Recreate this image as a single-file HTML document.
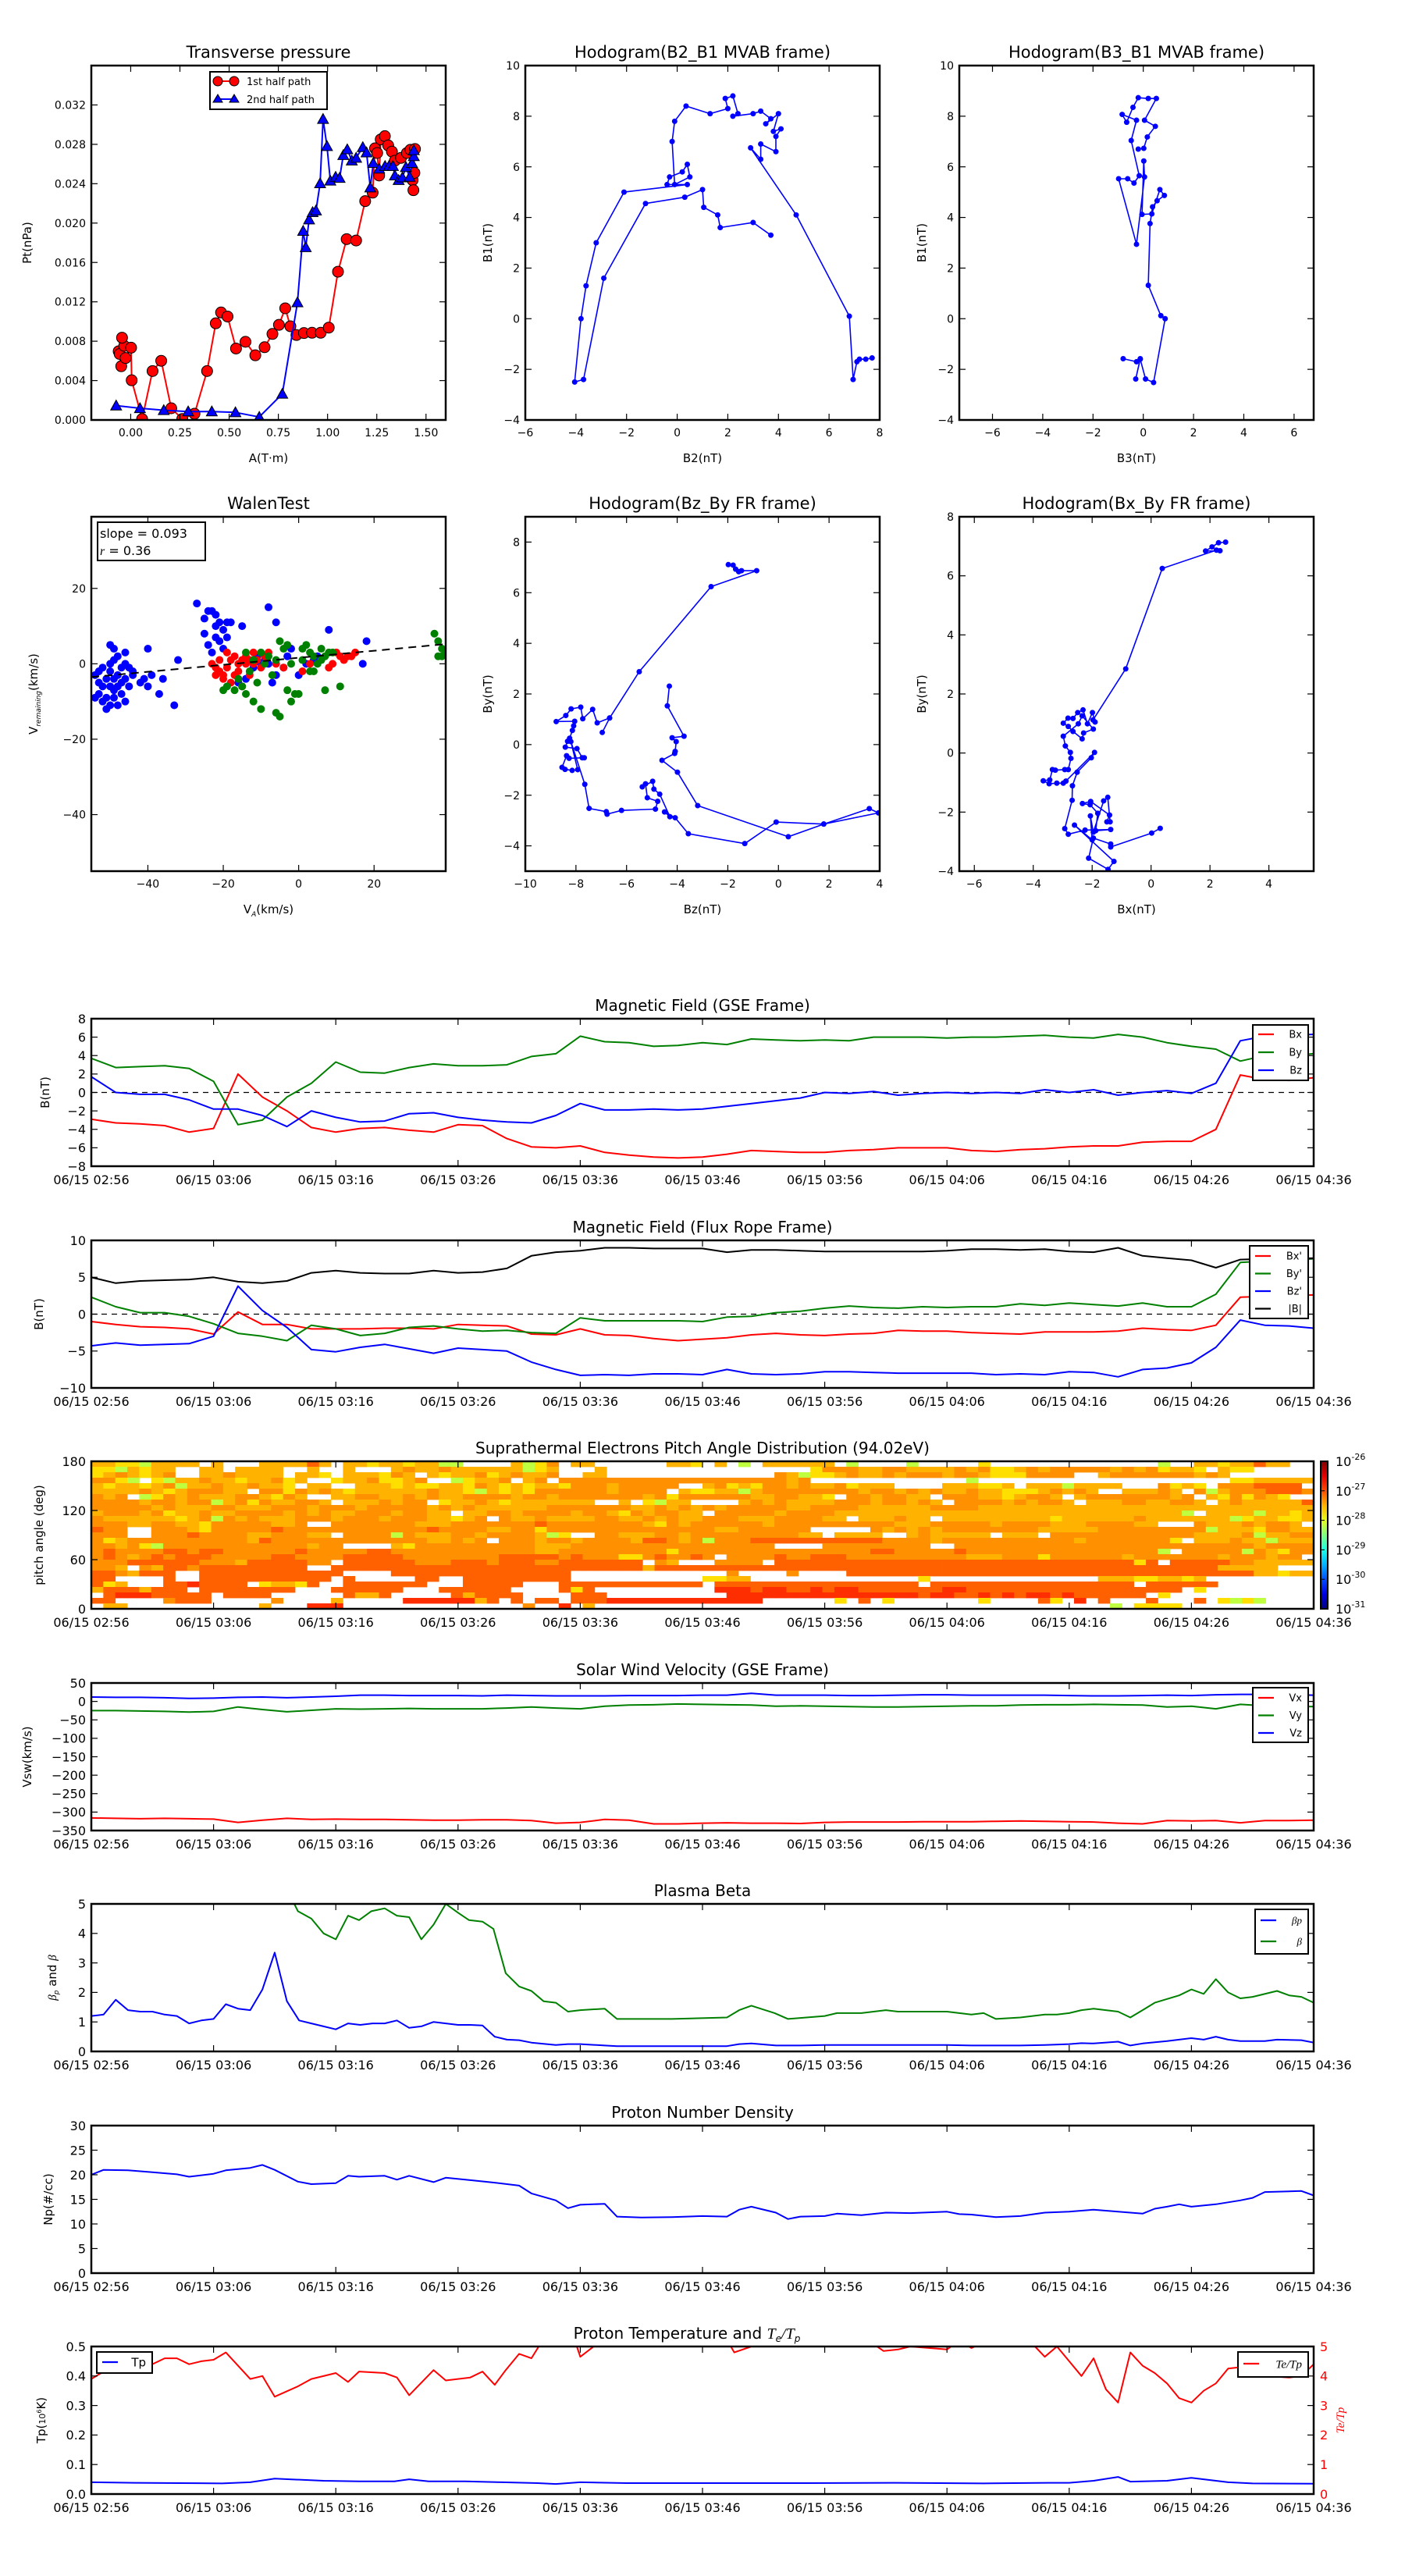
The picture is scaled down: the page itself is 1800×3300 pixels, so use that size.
<!DOCTYPE html>
<html><head><meta charset="utf-8"><title>Flux rope analysis</title>
<style>
html,body{margin:0;padding:0;background:#fff;}
svg{display:block;font-family:"DejaVu Sans","Liberation Sans",sans-serif;}
</style></head>
<body>
<svg id="fig" xmlns="http://www.w3.org/2000/svg" width="1800" height="3300" viewBox="0 0 1800 3300">
<rect x="0" y="0" width="1800" height="3300" fill="#fff"/>
</svg>
<script>
// ===================== DATA =====================
// Transverse pressure
const PT1_A = [-0.061,-0.056,-0.048,-0.033,-0.044,-0.026,0.002,0.005,0.058,0.111,0.155,0.206,0.262,0.324,0.388,0.432,0.459,0.492,0.535,0.583,0.633,0.680,0.720,0.753,0.785,0.811,0.842,0.880,0.921,0.965,1.006,1.053,1.097,1.145,1.191,1.229,1.241,1.252,1.262,1.270,1.291,1.308,1.327,1.342,1.373,1.403,1.421,1.444,1.432,1.436,1.441];
const PT1_P = [0.00698,0.0067,0.00546,0.00753,0.00836,0.00629,0.00734,0.00403,0.0001,0.00497,0.00601,0.00119,0.0001,0.00063,0.00497,0.00982,0.01092,0.01051,0.00726,0.00794,0.00657,0.00739,0.00874,0.00966,0.01134,0.00952,0.00863,0.00883,0.00886,0.00886,0.00938,0.01506,0.01837,0.01823,0.02223,0.02309,0.02759,0.02712,0.02483,0.0285,0.02883,0.02789,0.02726,0.02634,0.02662,0.02712,0.02745,0.02753,0.02436,0.02334,0.0251];
const PT2_A = [-0.074,0.047,0.168,0.292,0.412,0.532,0.653,0.770,0.847,0.876,0.889,0.906,0.924,0.941,0.962,0.977,0.997,1.014,1.041,1.061,1.080,1.100,1.123,1.145,1.179,1.198,1.217,1.232,1.262,1.292,1.312,1.332,1.342,1.361,1.380,1.398,1.417,1.429,1.438,1.438];
const PT2_P = [0.00146,0.00119,0.00099,0.00086,0.00086,0.00077,0.0003,0.00265,0.01194,0.0192,0.01754,0.02036,0.0211,0.02127,0.02403,0.03057,0.02781,0.0243,0.02469,0.02458,0.0269,0.02748,0.02634,0.02662,0.0277,0.02717,0.02361,0.0261,0.02552,0.02579,0.02579,0.02579,0.02483,0.02436,0.02463,0.02568,0.02469,0.0261,0.02679,0.02739];
const PT_XTICKS = [0,0.25,0.5,0.75,1.0,1.25,1.5];
const PT_XLABELS = ['0.00','0.25','0.50','0.75','1.00','1.25','1.50'];
const PT_YTICKS = [0,0.004,0.008,0.012,0.016,0.020,0.024,0.028,0.032];
const PT_YLABELS = ['0.000','0.004','0.008','0.012','0.016','0.020','0.024','0.028','0.032'];

// Hodogram B2-B1
const H1_X = [3.7,3.0,1.7,1.6,1.05,1.0,0.3,-1.25,-2.9,-3.7,-4.05,-3.8,-3.6,-3.2,-2.1,0.4,-0.4,-0.3,0.2,0.4,0.5,-0.1,-0.2,-0.1,0.35,1.3,2.0,1.9,2.2,2.4,2.2,3.0,3.3,3.7,3.5,4.0,3.8,4.1,3.9,3.9,3.3,3.3,2.9,4.7,6.8,6.95,7.1,7.2,7.45,7.7];
const H1_Y = [3.3,3.8,3.6,4.1,4.4,5.1,4.8,4.55,1.6,-2.4,-2.5,0.0,1.3,3.0,5.0,5.3,5.3,5.6,5.8,6.1,5.6,5.3,7.0,7.8,8.4,8.1,8.3,8.7,8.8,8.1,8.0,8.1,8.2,7.9,7.7,8.1,7.4,7.5,7.2,6.6,6.9,6.3,6.75,4.1,0.1,-2.4,-1.7,-1.6,-1.6,-1.55];
// Hodogram B3-B1
const H2_X = [-0.8,-0.27,-0.12,-0.3,-0.12,0.09,0.41,0.87,0.7,0.2,0.27,0.37,0.55,0.84,0.66,0.34,-0.05,0.02,0.05,-0.27,-0.98,-0.62,-0.37,-0.16,-0.48,-0.27,-0.84,-0.66,-0.41,-0.2,0.2,0.52,0.05,0.48,0.16,0.02,-0.2];
const H2_Y = [-1.58,-1.7,-1.58,-2.38,-1.6,-2.38,-2.52,0,0.12,1.32,3.76,4.42,4.66,4.87,5.1,4.14,4.12,6.23,5.6,2.94,5.53,5.53,5.36,5.65,7.04,7.84,8.07,7.76,8.35,8.73,8.7,8.7,7.84,7.6,7.18,6.73,6.7];
const H_XTICKS1 = [-6,-4,-2,0,2,4,6,8];
const H_YTICKS1 = [-4,-2,0,2,4,6,8,10];
const H_XTICKS2 = [-6,-4,-2,0,2,4,6];
// Walen test
const WB_X = [-54,-53,-53,-52,-52,-51,-51,-50,-50,-50,-49,-49,-49,-48,-48,-48,-47,-47,-46,-46,-45,-45,-44,-44,-52,-53,-54,-51,-50,-49,-48,-47,-46,-50,-49,-46,-40,-42,-41,-39,-37,-36,-40,-33,-32,-27,-24,-23,-22,-21,-25,-24,-23,-22,-21,-20,-19,-18,-22,-20,-25,-19,-15,-8,-6,0,-2,8,18,17,-16,-12,-10,-11,-8,-6,-4,-3,2,4,5,-9,-14,-7];
const WB_Y = [-3,-5,-8,-10,-1,-12,-4,-6,-2,0,1,-7,-9,-3,-11,2,-5,-8,-10,0,-1,-6,-3,-2,-6,-2,-9,-9,-11,-4,-6,-1,-4,5,4,3,-6,-5,-4,-3,-8,-4,4,-11,1,16,14,14,13,11,8,5,3,7,6,9,7,11,10,4,12,11,10,15,11,-3,4,9,6,0,-5,-1,0,2,0,-3,-1,2,0,1,2,1,-4,-5];
const WR_X = [-23,-22,-21,-20,-19,-18,-17,-16,-15,-14,-13,-12,-11,-10,-9,-17,-18,-15,-20,-16,-14,-12,-8,-6,-4,1,3,9,11,12,13,14,15,8,10,-21,-19,-13,-22];
const WR_Y = [0,-1,-2,-4,-1,1,2,-2,1,0,-3,3,1,-1,2,-3,-5,-6,-3,0,2,0,3,0,-1,-2,0,0,2,1,2,2,3,-1,3,1,3,1,-3];
const WG_X = [-20,-19,-17,-16,-15,-14,-13,-12,-11,-10,-14,-12,-10,-8,-7,-6,-5,-5,-4,-3,-2,-1,0,1,2,3,4,5,6,7,8,9,-9,-6,-3,1,3,7,11,36,37,38,39,37,38,4,-2,6];
const WG_Y = [-7,-6,-7,-4,-6,-8,-2,-10,-5,-12,3,1,3,2,-3,-13,-14,6,4,-7,-10,-8,-8,4,5,3,2,0,4,2,3,3,0,1,5,1,-2,-7,-6,8,6,2,3,2,4,-2,0,1];
const WALEN_SLOPE = 0.093, WALEN_INTERCEPT = 1.6;
const W_TICKS = [-40,-20,0,20];
// Hodogram Bz-By (FR)
const H3_X = [-1.98,-1.79,-1.69,-1.57,-1.46,-0.86,-2.66,-5.5,-6.67,-6.96,-6.67,-7.16,-7.34,-7.73,-7.81,-8.19,-8.4,-8.78,-8.05,-8.09,-8.14,-8.25,-8.33,-8.42,-7.96,-7.75,-7.67,-8.27,-8.37,-8.55,-8.43,-8.15,-7.93,-8.2,-7.65,-7.48,-6.8,-6.77,-6.2,-4.86,-4.77,-5.18,-5.25,-5.38,-4.97,-4.92,-4.69,-4.29,-4.5,-4.08,-3.56,-1.33,-0.09,1.79,3.59,3.95,1.79,0.39,-3.19,-3.99,-4.6,-4.1,-4.08,-4.04,-4.2,-3.73,-4.39,-4.31];
const H3_Y = [7.11,7.09,6.93,6.83,6.87,6.87,6.24,2.88,1.05,0.48,1.05,0.86,1.39,1.02,1.48,1.41,1.15,0.91,0.92,0.74,0.56,0.25,0.13,-0.1,-0.16,-0.52,-0.52,-0.54,-0.44,-0.9,-0.98,-1.02,-0.99,0.12,-1.57,-2.52,-2.65,-2.75,-2.6,-2.55,-2.24,-2.1,-1.55,-1.67,-1.45,-1.76,-1.96,-2.85,-2.66,-2.89,-3.52,-3.91,-3.06,-3.14,-2.53,-2.7,-3.14,-3.64,-2.41,-1.09,-0.62,-0.35,-0.27,0.12,0.27,0.33,1.53,2.31];
const H3_XTICKS = [-10,-8,-6,-4,-2,0,2,4];
const H3_YTICKS = [-4,-2,0,2,4,6,8];
// Hodogram Bx-By (FR)
const H4_X = [2.53,2.29,2.07,1.85,2.34,2.22,0.38,-0.86,-1.97,-1.90,-1.99,-2.16,-2.31,-2.49,-2.65,-2.82,-2.98,-2.81,-2.65,-2.34,-2.29,-1.96,-2.34,-2.47,-2.98,-2.91,-2.74,-2.72,-2.81,-2.93,-3.25,-3.35,-3.44,-3.66,-3.46,-3.2,-2.98,-2.89,-1.92,-2.03,-2.51,-2.67,-2.68,-2.93,-2.81,-2.24,-1.37,-1.88,-1.81,-2.07,-2.33,-2.05,-1.41,-1.5,-1.39,-1.47,-1.61,-1.96,-2.06,-2.0,-2.6,-1.26,-1.46,-2.12,-1.96,-1.37,-1.37,0.02,0.31];
const H4_Y = [7.14,7.12,6.98,6.84,6.85,6.87,6.25,2.85,1.12,1.05,1.37,0.99,1.46,1.37,1.17,1.18,1.01,0.9,0.73,0.48,0.68,0.81,1.26,0.99,0.57,0.24,0.02,-0.18,-0.56,-0.56,-0.58,-0.56,-0.91,-0.94,-1.04,-1.02,-1.02,-0.95,0.02,-0.16,-0.65,-1.11,-1.6,-2.56,-2.75,-2.61,-2.59,-2.63,-2.04,-1.75,-1.71,-1.64,-2.1,-2.33,-2.33,-1.5,-1.62,-2.68,-2.13,-2.94,-2.44,-3.67,-3.94,-3.56,-2.88,-3.08,-3.18,-2.71,-2.55];
const H4_XTICKS = [-6,-4,-2,0,2,4];
const H4_YTICKS = [-4,-2,0,2,4,6,8];

// Time series (minutes after 02:56)
const TIME_TICK_MIN = [0,10,20,30,40,50,60,70,80,90,100];
const TIME_TICK_LABELS = ['06/15 02:56','06/15 03:06','06/15 03:16','06/15 03:26','06/15 03:36','06/15 03:46','06/15 03:56','06/15 04:06','06/15 04:16','06/15 04:26','06/15 04:36'];
const T2 = [0,2,4,6,8,10,12,14,16,18,20,22,24,26,28,30,32,34,36,38,40,42,44,46,48,50,52,54,56,58,60,62,64,66,68,70,72,74,76,78,80,82,84,86,88,90,92,94,96,98,100];
const GSE_BX = [-2.9,-3.3,-3.4,-3.6,-4.3,-3.9,2.0,-0.5,-2.0,-3.8,-4.3,-3.9,-3.8,-4.1,-4.3,-3.5,-3.6,-5.0,-5.9,-6.0,-5.8,-6.5,-6.8,-7.0,-7.1,-7.0,-6.7,-6.3,-6.4,-6.5,-6.5,-6.3,-6.2,-6.0,-6.0,-6.0,-6.3,-6.4,-6.2,-6.1,-5.9,-5.8,-5.8,-5.4,-5.3,-5.3,-4.0,1.9,1.4,1.3,1.6];
const GSE_BY = [3.7,2.7,2.8,2.9,2.6,1.2,-3.5,-3.0,-0.5,1.0,3.3,2.2,2.1,2.7,3.1,2.9,2.9,3.0,3.9,4.2,6.1,5.5,5.4,5.0,5.1,5.4,5.2,5.8,5.7,5.6,5.7,5.6,6.0,6.0,6.0,5.9,6.0,6.0,6.1,6.2,6.0,5.9,6.3,6.0,5.4,5.0,4.7,3.4,4.0,4.0,4.2];
const GSE_BZ = [1.7,0,-0.2,-0.2,-0.8,-1.8,-1.8,-2.5,-3.7,-2.0,-2.7,-3.2,-3.1,-2.3,-2.2,-2.7,-3.0,-3.2,-3.3,-2.5,-1.2,-1.9,-1.9,-1.8,-1.9,-1.8,-1.5,-1.2,-0.9,-0.6,0.0,-0.1,0.1,-0.3,-0.1,0,-0.1,0,-0.1,0.3,0,0.3,-0.3,0.0,0.2,-0.1,1.0,5.6,6.1,6.2,6.3];
const FR_BX = [-1,-1.4,-1.7,-1.8,-2.0,-2.7,0.3,-1.4,-1.4,-2.0,-2.0,-2.0,-1.9,-1.9,-2.0,-1.4,-1.5,-1.6,-2.7,-2.8,-2.0,-2.8,-2.9,-3.3,-3.6,-3.4,-3.2,-2.8,-2.6,-2.8,-2.9,-2.7,-2.6,-2.2,-2.3,-2.3,-2.5,-2.6,-2.7,-2.4,-2.4,-2.4,-2.3,-1.9,-2.1,-2.2,-1.5,2.3,2.4,2.5,2.6];
const FR_BY = [2.3,1.0,0.2,0.2,-0.3,-1.3,-2.6,-3.0,-3.6,-1.5,-2.0,-2.9,-2.6,-1.8,-1.6,-2.0,-2.3,-2.2,-2.5,-2.6,-0.5,-0.9,-0.9,-0.9,-0.9,-1.0,-0.4,-0.3,0.2,0.4,0.8,1.1,0.9,0.8,1.0,0.9,1.0,1.0,1.4,1.2,1.5,1.3,1.1,1.5,1.0,1.0,2.7,7.0,7.2,7.3,7.5];
const FR_BZ = [-4.3,-3.9,-4.2,-4.1,-4.0,-3.0,3.8,0.5,-1.8,-4.8,-5.1,-4.5,-4.1,-4.7,-5.3,-4.6,-4.8,-5.0,-6.5,-7.5,-8.3,-8.2,-8.3,-8.1,-8.1,-8.2,-7.5,-8.1,-8.2,-8.1,-7.8,-7.8,-7.9,-8.0,-8.0,-8.0,-8.0,-8.2,-8.1,-8.2,-7.8,-7.9,-8.5,-7.5,-7.3,-6.6,-4.5,-0.8,-1.5,-1.6,-1.9];
const FR_BT = [5.0,4.2,4.5,4.6,4.7,5.0,4.4,4.2,4.5,5.6,5.9,5.6,5.5,5.5,5.9,5.6,5.7,6.2,7.9,8.4,8.6,9.0,9.0,8.9,8.9,8.9,8.4,8.7,8.7,8.6,8.5,8.5,8.5,8.5,8.5,8.6,8.8,8.8,8.7,8.8,8.5,8.4,9.0,7.9,7.6,7.3,6.3,7.4,7.5,7.5,7.6];
const VX = [-316,-317,-318,-317,-318,-319,-328,-322,-317,-320,-319,-320,-320,-321,-322,-322,-321,-321,-323,-330,-328,-320,-322,-332,-332,-330,-329,-330,-330,-331,-328,-327,-327,-327,-326,-326,-326,-325,-324,-325,-326,-327,-330,-332,-323,-324,-323,-329,-323,-323,-322];
const VY = [-25,-25,-26,-27,-29,-27,-15,-22,-28,-24,-20,-21,-20,-19,-20,-20,-20,-18,-15,-18,-20,-13,-10,-9,-7,-8,-9,-10,-13,-12,-13,-14,-15,-15,-14,-13,-12,-12,-10,-9,-9,-8,-9,-10,-15,-13,-20,-8,-12,-13,-14];
const VZ = [12,11,11,10,8,9,11,12,10,12,14,17,17,16,16,16,15,17,16,15,15,15,16,16,16,17,17,22,17,17,17,16,16,17,18,18,17,17,17,17,16,15,15,16,17,16,18,19,19,18,17];
const BETAP_T = [0,1,2,3,4,5,6,7,8,9,10,11,12,13,14,15,16,17,18,19,20,21,22,23,24,25,26,27,28,29,30,31,32,33,34,35,36,37,38,39,40,42,43,52,53,54,56,58,60,65,70,72,74,76,78,80,81,82,84,85,86,88,90,91,92,93,94,96,97,99,100];
const BETAP_V = [1.2,1.25,1.75,1.4,1.35,1.35,1.25,1.2,0.95,1.05,1.1,1.6,1.45,1.4,2.1,3.35,1.7,1.05,0.95,0.85,0.75,0.95,0.9,0.95,0.95,1.05,0.8,0.85,1.0,0.95,0.9,0.9,0.88,0.5,0.4,0.38,0.3,0.26,0.22,0.25,0.25,0.2,0.18,0.18,0.25,0.27,0.2,0.2,0.22,0.22,0.22,0.2,0.2,0.2,0.22,0.25,0.28,0.27,0.33,0.2,0.27,0.35,0.45,0.4,0.5,0.4,0.35,0.35,0.4,0.38,0.3];
const BETA_T = [0,7.5,8,8.5,16,16.9,18,19,20,21,21.9,22.9,24,25,26,27,28,29,30,30.9,32,32.9,33.9,35,36,37,38,39,40,42,43,47.5,52,53,54,55.9,57,60,61,63,65,66,70,72,73,74,76,78,79,80,81,82,84,85,86,87,89,90,91,92,93,94,95,97,98,99,100];
const BETA_V = [6,5.3,5.0,5.3,5.5,4.75,4.5,4.0,3.8,4.6,4.45,4.75,4.85,4.6,4.55,3.8,4.3,5.0,4.7,4.45,4.4,4.15,2.65,2.2,2.05,1.7,1.65,1.35,1.4,1.45,1.1,1.1,1.15,1.4,1.55,1.3,1.1,1.2,1.3,1.3,1.4,1.35,1.35,1.25,1.3,1.1,1.15,1.25,1.25,1.3,1.4,1.45,1.35,1.15,1.4,1.65,1.9,2.1,1.95,2.45,2.0,1.8,1.85,2.05,1.9,1.85,1.65];
const NP_T = [0,1,3,5,7,8,10,11,13,14,15,16.9,18,20,21,21.9,24,25,26,28,29,31,33,35,36,38,39,40,42,43,45,47.5,50,52,53,54,56,57,58,60,61,63,65,67,70,71,72,74,76,78,80,82,84,86,87,88,89,90,92,94,95,96,99,100];
const NP_V = [20,21,20.9,20.5,20.1,19.6,20.2,20.9,21.4,22.0,21.0,18.6,18.1,18.3,19.8,19.6,19.8,19.0,19.8,18.5,19.4,18.9,18.4,17.8,16.2,14.8,13.2,13.9,14.1,11.5,11.3,11.4,11.6,11.5,12.9,13.5,12.3,11.0,11.5,11.6,12.1,11.8,12.3,12.2,12.5,12.0,11.9,11.4,11.6,12.3,12.5,12.9,12.5,12.1,13.1,13.5,14.0,13.5,14.0,14.8,15.3,16.5,16.7,15.8];
const TP_T = [0,3.5,7.2,10.7,13,15,19,21.9,24.8,26,27.6,30.6,33.6,36.5,38,40,43.8,51,58.5,65.8,73,78.3,80,82,84,85,88,90,93,95,100];
const TP_V = [0.04,0.038,0.037,0.036,0.04,0.052,0.045,0.043,0.043,0.05,0.043,0.043,0.04,0.037,0.034,0.04,0.037,0.037,0.037,0.038,0.036,0.038,0.038,0.045,0.058,0.042,0.045,0.055,0.04,0.036,0.035];
const TETP_T = [0,1,3,4,6,7,8,9,10,11,13,14,15,16.9,18,20,21,21.9,24,25,26,28,29,31,32,33,33.9,35,36,36.9,39.4,40,41.1,42.4,47.5,51.9,52.6,54,55.6,62.9,64.8,66,67,70,71,72,73.9,77.2,78,79,80,81,82,83,84,85,86,87,88,89,90,91,92,93,94,95,96,98,99,100];
const TETP_V = [3.9,4.15,4.4,4.2,4.6,4.6,4.4,4.5,4.55,4.8,3.9,4.0,3.3,3.65,3.9,4.1,3.8,4.15,4.1,3.95,3.35,4.2,3.85,3.95,4.15,3.7,4.2,4.75,4.6,5.2,5.4,4.65,5.0,5.4,5.5,5.3,4.8,5.0,5.3,5.4,4.85,4.9,5.0,4.9,5.2,4.95,5.3,5.0,4.65,5.0,4.5,4.0,4.6,3.55,3.1,4.8,4.35,4.1,3.75,3.25,3.1,3.5,3.75,4.25,4.3,4.2,4.0,3.95,4.0,4.4];

// PAD heatmap: one string per pitch-angle row (top = 180 deg), one char per ~1 min bin
// codes: '.' no data, g,y,l,o,d,r -> log10 flux levels in PAD_LEVELS
const PAD_CODES = ['g','y','l','o','d','r'];
const PAD_LEVELS = [-28.19,-27.72,-27.5,-27.33,-27.1,-26.85];
const PAD_ROWS = [
"llyygllll.l...lllldl.llyllyllgg....lgyo.ll......lly.l.g.llllll.g....g.....y..............g..llylldll..",
"yyglyll..ll.llll..l..l...lollollllllgyl...l.................yooolloolllloloyylolooooololoylly.lyy......",
"ylolylo..llollll.lly.lllyol.lylloylollo..ll..............olgyylolloloooloolyyyoooo..looooooolol.......",
"ooyg.ygllollylloyl..ylloyylo..gyllo.lo.ooooooooooooooooooolo.............g.....................yyllllll",
"lyllylogllollolly.ll..lllylyyllyolylyllyooolooooo..loylyoololloylll....lllyyl.lllgllll...oyly.ooodddd",
"llllolyloooll ooyololyllllllollyglylyooooooloooo.lyyllglooooooooloololollollyyylolol..lllol.oglooodddodd",
"olo.gyolollloolyol..lloollololloooolooloooooooloyoooooolloolly.oolooll ooollylool looooooolo lyoyoly.....",
"oooolooloogloyollool llloloo.yllolylllllll..l.ygll....lololllloooloolol oooololool llloollool lollllldllll",
"ooooolollloolllooolooolooooololollllllooooooollolololooooolloooolllllloooolllllllllllllllllllllllllllll",
"loooloyllolloooololollooolooll lloolooooloolyolooll oooooloooolllllllllllllllllllllllllllllg.llllgllyllll",
"ollllllylogololllooolooolooollylo.ollolllloollolollooolllooooll.llloll lllllllllyllllllolllllllgyllyylll",
"ooolloollyooooollo..ooooooolllooooooodoooooooolyolooooooloooooooooollloooooloooolllooooll...olllolool.ooo",
"doo..ooolyooooodoooooooooooodoooollooyoooooooooooooolloooooo.....olololoooooooollllloooooooooglllyoollll",
"ooo..ooodoooolloooll.oooogolllooloooolgy..oolllooloooooooooll llll..lolllll.lll.oooooooooooollllogllooooo",
"oylooooooooooldooooooooooooollolo.ooolooloooolddologooodddddddddddooooloooooooooooloooooooy.lllollgllll.l",
"ooloygooooooooooooloo....lyoooooooooolllooooooooooooooooo....ooooooooo..ooooooooooooooooooooooooolooooo.o",
"odooooddoddoooooodoooooddoooooooooooolloooooooooyooooooooooooooooddooooodoooooooooooooooog.ooooogolyoooo",
"odolododddoooooddoooodddddoooooooodddddodoooyyodoodo.oooodoodddoooooooooollloooyooooooloooooooloooloo.oo",
"oooddddddoooldddddoo.ddddddooodddodddooddddddd.ol...oooo.ddddddddddddddddddddddddddddddyd.dddddoollllloll",
"ool.olddoddddddddd..ddddddddddddddddddddddddddldddddddddddddddddddddddddddddddddddddddddddddddlllll.....",
"ddolddd..dddddddddddd....ddddddddddddddd.............o....o....ddddddddddddddddddddddddddddddddddllyllyl",
"dd....d..ddddddddddd d.....dd..ddddddddd...........yyll..............y..............lllyyllyl",
"dyl...ddrdddd yllyd..ddddddd...ddddd...dddddddddddd.ddddddddddddddddd.ddddddddddddddddd.dddddd.....",
"ldddlddd.dddddddd...dddddd...dddddd....dyd..........rrrdrrddrdrrdddddddrrdddddddddddddddddd.y......",
".drrrddddd.dddd......dlld.....dldddd....ddd..........rrrrrrrrrrrrrrrrdrrddrdrdrrdrdddddd.y.......",
"dd....oddd.....o....l.....rrrrrrld.d.dd.dddrrrrrrrrrrrrr......y.d.y.......y....dy.r.d...d...d.ygyg....",
".ll...........l...rrr...............o..r.l...........................................g.yyyy."
];
const CB_EXP = ['-26','-27','-28','-29','-30','-31'];

// ===================== HELPERS =====================
const NS = 'http://www.w3.org/2000/svg';
const FIG = document.getElementById('fig');
const FONT = '"DejaVu Sans","Liberation Sans",sans-serif';
let clipCount = 0;
function mk(tag, attrs, parent) {
  const e = document.createElementNS(NS, tag);
  for (const k in attrs) e.setAttribute(k, attrs[k]);
  parent.appendChild(e);
  return e;
}
function text(parent, name, str, x, y, size, anchor, extra) {
  const t = mk('text', Object.assign({x: x, y: y, 'font-size': size, 'text-anchor': anchor || 'middle', fill: '#000'}, extra || {}), parent);
  
  
  t.textContent = str;
  return t;
}
function makeAxes(name, x0, y0, w, h, xmin, xmax, ymin, ymax) {
  const g = mk('g', {}, FIG);
  
  
  clipCount++;
  const cid = 'clip' + clipCount;
  const defs = mk('defs', {}, g);
  const cp = mk('clipPath', {id: cid}, defs);
  mk('rect', {x: x0, y: y0, width: w, height: h}, cp);
  const plot = mk('g', {'clip-path': 'url(#' + cid + ')'}, g);
  
  
  return {g: g, plot: plot, x0: x0, y0: y0, w: w, h: h,
    sx: v => x0 + (v - xmin) / (xmax - xmin) * w,
    sy: v => y0 + h - (v - ymin) / (ymax - ymin) * h};
}
function frame(ax) {
  const r = mk('rect', {x: ax.x0, y: ax.y0, width: ax.w, height: ax.h, fill: 'none', stroke: '#000', 'stroke-width': 2.5}, ax.g);
  
  
}
function xTicks(ax, vals, labels, size, dy, both) {
  const g = mk('g', {}, ax.g);
  
  
  vals.forEach((v, i) => {
    const x = ax.sx(v);
    mk('line', {x1: x, x2: x, y1: ax.y0 + ax.h, y2: ax.y0 + ax.h - 8, stroke: '#000', 'stroke-width': 1.2}, g);
    if (both !== false) mk('line', {x1: x, x2: x, y1: ax.y0, y2: ax.y0 + 8, stroke: '#000', 'stroke-width': 1.2}, g);
    text(g, 'x-tick-label', labels[i], x, ax.y0 + ax.h + dy, size, 'middle');
  });
}
function yTicks(ax, vals, labels, size, color, right, noRightTicks) {
  const g = mk('g', {}, ax.g);
  
  
  vals.forEach((v, i) => {
    const y = ax.sy(v);
    if (!right) {
      mk('line', {x1: ax.x0, x2: ax.x0 + 8, y1: y, y2: y, stroke: '#000', 'stroke-width': 1.2}, g);
      if (!noRightTicks) mk('line', {x1: ax.x0 + ax.w, x2: ax.x0 + ax.w - 8, y1: y, y2: y, stroke: '#000', 'stroke-width': 1.2}, g);
      text(g, 'y-tick-label', labels[i], ax.x0 - 7, y + size * 0.36, size, 'end', {fill: color || '#000'});
    } else {
      mk('line', {x1: ax.x0 + ax.w, x2: ax.x0 + ax.w - 8, y1: y, y2: y, stroke: '#000', 'stroke-width': 1.2}, g);
      text(g, 'right-y-tick-label', labels[i], ax.x0 + ax.w + 8, y + size * 0.36, size, 'start', {fill: color});
    }
  });
}
function yLabel(ax, name, str, x, size, color) {
  const cy = ax.y0 + ax.h / 2;
  const t = text(ax.g, name, str, x, cy, size, 'middle', {transform: 'rotate(-90 ' + x + ' ' + cy + ')', fill: color || '#000'});
  return t;
}
function title(ax, str, size) {
  return text(ax.g, 'chart-title', str, ax.x0 + ax.w / 2, ax.y0 - 10, size, 'middle');
}
function polyline(ax, xs, ys, color, width, name) {
  const pts = xs.map((x, i) => ax.sx(x).toFixed(1) + ',' + ax.sy(ys[i]).toFixed(1)).join(' ');
  const p = mk('polyline', {points: pts, fill: 'none', stroke: color, 'stroke-width': width, 'stroke-linejoin': 'round'}, ax.plot);
  
  
  return p;
}
function dots(ax, xs, ys, color, r, name, stroke) {
  const g = mk('g', {}, ax.plot);
  
  
  xs.forEach((x, i) => {
    const c = mk('circle', {cx: ax.sx(x), cy: ax.sy(ys[i]), r: r, fill: color}, g);
    if (stroke) c.setAttribute('stroke', stroke);
    
    
  });
}
function tris(ax, xs, ys, color, s, name) {
  const g = mk('g', {}, ax.plot);
  
  
  xs.forEach((x, i) => {
    const cx = ax.sx(x), cy = ax.sy(ys[i]);
    const p = mk('polygon', {points: cx + ',' + (cy - s) + ' ' + (cx - s) + ',' + (cy + s * 0.8) + ' ' + (cx + s) + ',' + (cy + s * 0.8), fill: color, stroke: '#000', 'stroke-width': 1}, g);
    
    
  });
}
function zeroLine(ax) {
  const l = mk('line', {x1: ax.x0, x2: ax.x0 + ax.w, y1: ax.sy(0), y2: ax.sy(0), stroke: '#000', 'stroke-width': 1.3, 'stroke-dasharray': '7,6'}, ax.plot);
  
  
}
function legend(ax, name, x, y, w, h, entries, size, rowStart, rowStep) {
  const g = mk('g', {}, ax.g);
  
  
  mk('rect', {x: x, y: y, width: w, height: h, fill: '#fff', stroke: '#000', 'stroke-width': 2}, g);
  entries.forEach((e, i) => {
    const yy = y + rowStart + i * rowStep;
    const ln = mk('line', {x1: x + 7, x2: x + 27, y1: yy, y2: yy, stroke: e.color, 'stroke-width': 2.2}, g);
    
    
    const t = text(g, 'legend-entry', e.label, x + w - 8, yy + size * 0.35, size, 'end', e.italic ? {'font-style': 'italic', 'font-family': '"Liberation Serif",serif'} : {});
  });
  return g;
}
function jet(t) {
  const c = v => Math.max(0, Math.min(1, v));
  const r = c(1.5 - Math.abs(4 * t - 3)), g = c(1.5 - Math.abs(4 * t - 2)), b = c(1.5 - Math.abs(4 * t - 1));
  return 'rgb(' + Math.round(r * 255) + ',' + Math.round(g * 255) + ',' + Math.round(b * 255) + ')';
}

// ===================== TOP ROW =====================
// Transverse pressure
(function () {
  const ax = makeAxes('transverse-pressure-chart', 117, 84, 454, 454, -0.2, 1.6, 0, 0.036);
  polyline(ax, PT1_A, PT1_P, '#ff0000', 2, 'first-half-path-line');
  dots(ax, PT1_A, PT1_P, '#ff0000', 7, 'first-half-path-markers', '#000');
  polyline(ax, PT2_A, PT2_P, '#0000ff', 2, 'second-half-path-line');
  tris(ax, PT2_A, PT2_P, '#0000ff', 7, 'second-half-path-markers');
  xTicks(ax, PT_XTICKS, PT_XLABELS, 14, 21);
  yTicks(ax, PT_YTICKS, PT_YLABELS, 14);
  frame(ax);
  title(ax, 'Transverse pressure', 21);
  yLabel(ax, 'y-axis-title', 'Pt(nPa)', 40, 15);
  text(ax.g, 'x-axis-title', 'A(T\u00b7m)', ax.x0 + ax.w / 2, 592, 15, 'middle');
  const lg = mk('g', {}, ax.g);
  
  
  mk('rect', {x: 269, y: 92, width: 150, height: 48, fill: '#fff', stroke: '#000', 'stroke-width': 2}, lg);
  mk('line', {x1: 279, x2: 300, y1: 104, y2: 104, stroke: '#f00', 'stroke-width': 2}, lg);
  mk('circle', {cx: 279, cy: 104, r: 6, fill: '#f00', stroke: '#000'}, lg);
  mk('circle', {cx: 300, cy: 104, r: 6, fill: '#f00', stroke: '#000'}, lg);
  text(lg, 'legend-entry', '1st half path', 316, 109, 13, 'start');
  mk('line', {x1: 279, x2: 300, y1: 127, y2: 127, stroke: '#00f', 'stroke-width': 2}, lg);
  mk('polygon', {points: '279,121 273,131 285,131', fill: '#00f', stroke: '#000'}, lg);
  mk('polygon', {points: '300,121 294,131 306,131', fill: '#00f', stroke: '#000'}, lg);
  text(lg, 'legend-entry', '2nd half path', 316, 132, 13, 'start');
})();
// Hodogram B2_B1
(function () {
  const ax = makeAxes('hodogram-b2-b1-chart', 673, 84, 454, 454, -6, 8, -4, 10);
  polyline(ax, H1_X, H1_Y, '#0000ff', 1.6, 'hodogram-b2-b1-line');
  dots(ax, H1_X, H1_Y, '#0000ff', 3.5, 'hodogram-b2-b1-markers');
  xTicks(ax, H_XTICKS1, H_XTICKS1.map(v => String(v).replace('-', '\u2212')), 14, 21);
  yTicks(ax, H_YTICKS1, H_YTICKS1.map(v => String(v).replace('-', '\u2212')), 14);
  frame(ax);
  title(ax, 'Hodogram(B2_B1 MVAB frame)', 21);
  yLabel(ax, 'y-axis-title', 'B1(nT)', 630, 15);
  text(ax.g, 'x-axis-title', 'B2(nT)', ax.x0 + ax.w / 2, 592, 15, 'middle');
})();
// Hodogram B3_B1
(function () {
  const ax = makeAxes('hodogram-b3-b1-chart', 1229, 84, 454, 454, -7.32, 6.78, -4, 10);
  polyline(ax, H2_X, H2_Y, '#0000ff', 1.6, 'hodogram-b3-b1-line');
  dots(ax, H2_X, H2_Y, '#0000ff', 3.5, 'hodogram-b3-b1-markers');
  xTicks(ax, H_XTICKS2, H_XTICKS2.map(v => String(v).replace('-', '\u2212')), 14, 21);
  yTicks(ax, H_YTICKS1, H_YTICKS1.map(v => String(v).replace('-', '\u2212')), 14);
  frame(ax);
  title(ax, 'Hodogram(B3_B1 MVAB frame)', 21);
  yLabel(ax, 'y-axis-title', 'B1(nT)', 1186, 15);
  text(ax.g, 'x-axis-title', 'B3(nT)', ax.x0 + ax.w / 2, 592, 15, 'middle');
})();

// ===================== SECOND ROW =====================
(function () {
  const ax = makeAxes('walen-test-chart', 117, 662, 454, 454, -55, 39, -55, 39);
  dots(ax, WB_X, WB_Y, '#0000ff', 5, 'walen-blue-points');
  dots(ax, WR_X, WR_Y, '#ff0000', 5, 'walen-red-points');
  dots(ax, WG_X, WG_Y, '#008000', 5, 'walen-green-points');
  const fx = [-55, 39];
  const fy = fx.map(v => WALEN_SLOPE * v + WALEN_INTERCEPT);
  const fl = mk('line', {x1: ax.sx(fx[0]), y1: ax.sy(fy[0]), x2: ax.sx(fx[1]), y2: ax.sy(fy[1]), stroke: '#000', 'stroke-width': 2, 'stroke-dasharray': '10,7'}, ax.plot);
  
  
  xTicks(ax, W_TICKS, W_TICKS.map(v => String(v).replace('-', '\u2212')), 14, 21);
  yTicks(ax, W_TICKS, W_TICKS.map(v => String(v).replace('-', '\u2212')), 14);
  frame(ax);
  title(ax, 'WalenTest', 21);
  const lb = mk('g', {}, ax.g);
  
  
  mk('rect', {x: 125, y: 669, width: 138, height: 49, fill: '#fff', stroke: '#000', 'stroke-width': 2}, lb);
  text(lb, 'slope-label', 'slope = 0.093', 128, 689, 16, 'start');
  const rt = text(lb, 'correlation-label', '', 128, 711, 16, 'start');
  const r1 = mk('tspan', {'font-style': 'italic', 'font-family': '"Liberation Serif",serif'}, rt); r1.textContent = 'r';
  const r2 = mk('tspan', {}, rt); r2.textContent = ' = 0.36';
  const yl = yLabel(ax, 'y-axis-title', '', 48, 15);
  const a = mk('tspan', {}, yl); a.textContent = 'V';
  const b = mk('tspan', {'font-size': 9, 'font-style': 'italic', dy: 4}, yl); b.textContent = 'remaining';
  const c = mk('tspan', {dy: -4}, yl); c.textContent = '(km/s)';
  const xl = text(ax.g, 'x-axis-title', '', ax.x0 + ax.w / 2, 1170, 15, 'middle');
  const d = mk('tspan', {}, xl); d.textContent = 'V';
  const e = mk('tspan', {'font-size': 9, 'font-style': 'italic', dy: 4}, xl); e.textContent = 'A';
  const f = mk('tspan', {dy: -4}, xl); f.textContent = '(km/s)';
})();
(function () {
  const ax = makeAxes('hodogram-bz-by-chart', 673, 662, 454, 454, -10, 4, -5, 9);
  polyline(ax, H3_X, H3_Y, '#0000ff', 1.6, 'hodogram-bz-by-line');
  dots(ax, H3_X, H3_Y, '#0000ff', 3.5, 'hodogram-bz-by-markers');
  xTicks(ax, H3_XTICKS, H3_XTICKS.map(v => String(v).replace('-', '\u2212')), 14, 21);
  yTicks(ax, H3_YTICKS, H3_YTICKS.map(v => String(v).replace('-', '\u2212')), 14);
  frame(ax);
  title(ax, 'Hodogram(Bz_By FR frame)', 21);
  yLabel(ax, 'y-axis-title', 'By(nT)', 630, 15);
  text(ax.g, 'x-axis-title', 'Bz(nT)', ax.x0 + ax.w / 2, 1170, 15, 'middle');
})();
(function () {
  const ax = makeAxes('hodogram-bx-by-chart', 1229, 662, 454, 454, -6.51, 5.52, -4, 8);
  polyline(ax, H4_X, H4_Y, '#0000ff', 1.6, 'hodogram-bx-by-line');
  dots(ax, H4_X, H4_Y, '#0000ff', 3.5, 'hodogram-bx-by-markers');
  xTicks(ax, H4_XTICKS, H4_XTICKS.map(v => String(v).replace('-', '\u2212')), 14, 21);
  yTicks(ax, H4_YTICKS, H4_YTICKS.map(v => String(v).replace('-', '\u2212')), 14);
  frame(ax);
  title(ax, 'Hodogram(Bx_By FR frame)', 21);
  yLabel(ax, 'y-axis-title', 'By(nT)', 1186, 15);
  text(ax.g, 'x-axis-title', 'Bx(nT)', ax.x0 + ax.w / 2, 1170, 15, 'middle');
})();

// ===================== TIME SERIES PANELS =====================
const PX0 = 117, PW = 1566, PH = 189;
function timePanel(name, top, ymin, ymax, yt, ylabels, ttl, ylab, ylabX) {
  const ax = makeAxes(name, PX0, top, PW, PH, 0, 100, ymin, ymax);
  ax.finish = function () {
    xTicks(ax, TIME_TICK_MIN, TIME_TICK_LABELS, 16, 23);
    yTicks(ax, yt, ylabels, 16);
    frame(ax);
    title(ax, ttl, 20);
    if (ylab) yLabel(ax, 'y-axis-title', ylab, ylabX, 15);
  };
  return ax;
}
const neg = v => String(v).replace('-', '\u2212');
// GSE
(function () {
  const yt = [-8,-6,-4,-2,0,2,4,6,8];
  const ax = timePanel('magnetic-field-gse-chart', 1305, -8, 8, yt, yt.map(neg), 'Magnetic Field (GSE Frame)', 'B(nT)', 63);
  zeroLine(ax);
  polyline(ax, T2, GSE_BX, '#ff0000', 2, 'bx-line');
  polyline(ax, T2, GSE_BY, '#008000', 2, 'by-line');
  polyline(ax, T2, GSE_BZ, '#0000ff', 2, 'bz-line');
  ax.finish();
  legend(ax, 'gse-legend', 1605, 1313, 71, 71, [{label: 'Bx', color: '#f00'}, {label: 'By', color: '#008000'}, {label: 'Bz', color: '#00f'}], 13, 12, 23);
})();
// Flux rope
(function () {
  const yt = [-10,-5,0,5,10];
  const ax = timePanel('magnetic-field-flux-rope-chart', 1589, -10, 10, yt, yt.map(neg), 'Magnetic Field (Flux Rope Frame)', 'B(nT)', 55);
  zeroLine(ax);
  polyline(ax, T2, FR_BX, '#ff0000', 2, 'bx-prime-line');
  polyline(ax, T2, FR_BY, '#008000', 2, 'by-prime-line');
  polyline(ax, T2, FR_BZ, '#0000ff', 2, 'bz-prime-line');
  polyline(ax, T2, FR_BT, '#000000', 2, 'b-magnitude-line');
  ax.finish();
  legend(ax, 'flux-rope-legend', 1601, 1596, 75, 93, [{label: "Bx'", color: '#f00'}, {label: "By'", color: '#008000'}, {label: "Bz'", color: '#00f'}, {label: '|B|', color: '#000'}], 13, 13, 22.5);
})();
// PAD heatmap
(function () {
  const yt = [0,60,120,180];
  const ax = timePanel('pitch-angle-distribution-chart', 1872, 0, 180, yt, yt.map(String), 'Suprathermal Electrons Pitch Angle Distribution (94.02eV)', 'pitch angle (deg)', 55);
  const nCols = 102, nRows = PAD_ROWS.length;
  const cw = 100 / nCols, rh = 180 / nRows;
  const hg = mk('g', {}, ax.plot);
  
  
  PAD_ROWS.forEach((row, r) => {
    for (let c = 0; c < row.length && c < nCols; c++) {
      const k = PAD_CODES.indexOf(row[c]);
      if (k < 0) continue;
      const v = PAD_LEVELS[k];
      const x1 = ax.sx(c * cw), x2 = ax.sx((c + 1) * cw);
      const y1 = ax.sy(180 - r * rh), y2 = ax.sy(180 - (r + 1) * rh);
      const cell = mk('rect', {x: x1.toFixed(2), y: y1.toFixed(2), width: (x2 - x1 + 0.4).toFixed(2), height: (y2 - y1 + 0.4).toFixed(2), fill: jet((v + 31) / 5)}, hg);
      
      
    }
  });
  ax.finish();
  // colorbar
  const cb = mk('g', {}, FIG);
  
  
  const defs = mk('defs', {}, cb);
  const lg = mk('linearGradient', {id: 'jetgrad', x1: 0, y1: 1, x2: 0, y2: 0}, defs);
  for (let i = 0; i <= 10; i++) mk('stop', {offset: (i / 10), 'stop-color': jet(i / 10)}, lg);
  mk('rect', {x: 1692, y: 1872, width: 9, height: 189, fill: 'url(#jetgrad)', stroke: '#000', 'stroke-width': 2}, cb);
  CB_EXP.forEach((e, i) => {
    const y = 1872 + i * 189 / 5;
    mk('line', {x1: 1692, x2: 1697, y1: y, y2: y, stroke: '#000', 'stroke-width': 1}, cb);
    const t = text(cb, 'colorbar-tick-label', '10', 1711, y + 6, 16, 'start');
    const s = mk('tspan', {'font-size': 11, dy: -8}, t); s.textContent = e;
  });
})();
// Velocity
(function () {
  const yt = [-350,-300,-250,-200,-150,-100,-50,0,50];
  const ax = timePanel('solar-wind-velocity-chart', 2156, -350, 50, yt, yt.map(neg), 'Solar Wind Velocity (GSE Frame)', 'Vsw(km/s)', 40);
  polyline(ax, T2, VX, '#ff0000', 2, 'vx-line');
  polyline(ax, T2, VY, '#008000', 2, 'vy-line');
  polyline(ax, T2, VZ, '#0000ff', 2, 'vz-line');
  ax.finish();
  legend(ax, 'velocity-legend', 1605, 2162, 71, 70, [{label: 'Vx', color: '#f00'}, {label: 'Vy', color: '#008000'}, {label: 'Vz', color: '#00f'}], 13, 13, 22.5);
})();
// Plasma beta
(function () {
  const yt = [0,1,2,3,4,5];
  const ax = timePanel('plasma-beta-chart', 2439, 0, 5, yt, yt.map(String), 'Plasma Beta', null, 0);
  polyline(ax, BETAP_T, BETAP_V, '#0000ff', 2, 'proton-beta-line');
  polyline(ax, BETA_T, BETA_V, '#008000', 2, 'total-beta-line');
  ax.finish();
  const yl = yLabel(ax, 'y-axis-title', '', 72, 15);
  const t1 = mk('tspan', {'font-style': 'italic', 'font-family': '"Liberation Serif",serif'}, yl); t1.textContent = '\u03b2';
  const t2 = mk('tspan', {'font-size': 9, dy: 3, 'font-style': 'italic'}, yl); t2.textContent = 'p';
  const t3 = mk('tspan', {dy: -3}, yl); t3.textContent = ' and ';
  const t4 = mk('tspan', {'font-style': 'italic', 'font-family': '"Liberation Serif",serif'}, yl); t4.textContent = '\u03b2';
  legend(ax, 'beta-legend', 1608, 2446, 68, 57, [{label: '\u03b2p', color: '#00f', italic: true}, {label: '\u03b2', color: '#008000', italic: true}], 13, 14, 27);
})();
// Density
(function () {
  const yt = [0,5,10,15,20,25,30];
  const ax = timePanel('proton-density-chart', 2723, 0, 30, yt, yt.map(String), 'Proton Number Density', 'Np(#/cc)', 67);
  polyline(ax, NP_T, NP_V, '#0000ff', 2, 'proton-density-line');
  ax.finish();
})();
// Temperature
(function () {
  const yt = [0,0.1,0.2,0.3,0.4,0.5];
  const ax = makeAxes('proton-temperature-chart', PX0, 3006, PW, PH, 0, 100, 0, 0.5);
  const axR = {sx: ax.sx, sy: v => 3006 + PH - v / 5 * PH};
  polyline(ax, TP_T, TP_V, '#0000ff', 2, 'proton-temperature-line');
  const pts = TETP_T.map((t, i) => ax.sx(t).toFixed(1) + ',' + axR.sy(TETP_V[i]).toFixed(1)).join(' ');
  const pl = mk('polyline', {points: pts, fill: 'none', stroke: '#ff0000', 'stroke-width': 2, 'stroke-linejoin': 'round'}, ax.plot);
  
  
  xTicks(ax, TIME_TICK_MIN, TIME_TICK_LABELS, 16, 23);
  yTicks(ax, yt, ['0.0','0.1','0.2','0.3','0.4','0.5'], 16, '#000', false, true);
  const rt = [0,1,2,3,4,5];
  yTicks({g: ax.g, x0: ax.x0, w: ax.w, sy: axR.sy}, rt, rt.map(String), 16, '#ff0000', true);
  frame(ax);
  const tt = text(ax.g, 'chart-title', 'Proton Temperature and ', ax.x0 + ax.w / 2 - 20, 2996, 20, 'middle');
  const m1 = mk('tspan', {'font-style': 'italic', 'font-family': '"Liberation Serif",serif'}, tt); m1.textContent = 'T';
  const m2 = mk('tspan', {'font-size': 12, dy: 4, 'font-style': 'italic'}, tt); m2.textContent = 'e';
  const m3 = mk('tspan', {dy: -4, 'font-style': 'italic', 'font-family': '"Liberation Serif",serif'}, tt); m3.textContent = '/T';
  const m4 = mk('tspan', {'font-size': 12, dy: 4, 'font-style': 'italic'}, tt); m4.textContent = 'p';
  const yl = yLabel(ax, 'y-axis-title', 'Tp(', 58, 15);
  const s1 = mk('tspan', {'font-size': 11}, yl); s1.textContent = '10';
  const s2 = mk('tspan', {'font-size': 8, dy: -5}, yl); s2.textContent = '6';
  const s3 = mk('tspan', {dy: 5}, yl); s3.textContent = 'K)';
  const cy = 3006 + PH / 2;
  const rl = text(ax.g, 'right-y-axis-title', 'Te/Tp', 1722, cy, 15, 'middle', {transform: 'rotate(-90 1722 ' + cy + ')', fill: '#ff0000', 'font-style': 'italic', 'font-family': '"Liberation Serif",serif'});
  legend(ax, 'tp-legend', 124, 3013, 71, 27, [{label: 'Tp', color: '#00f'}], 15, 13, 0);
  legend(ax, 'te-tp-legend', 1586, 3013, 90, 32, [{label: 'Te/Tp', color: '#f00', italic: true}], 15, 15, 0);
})();
</script>
</body></html>
